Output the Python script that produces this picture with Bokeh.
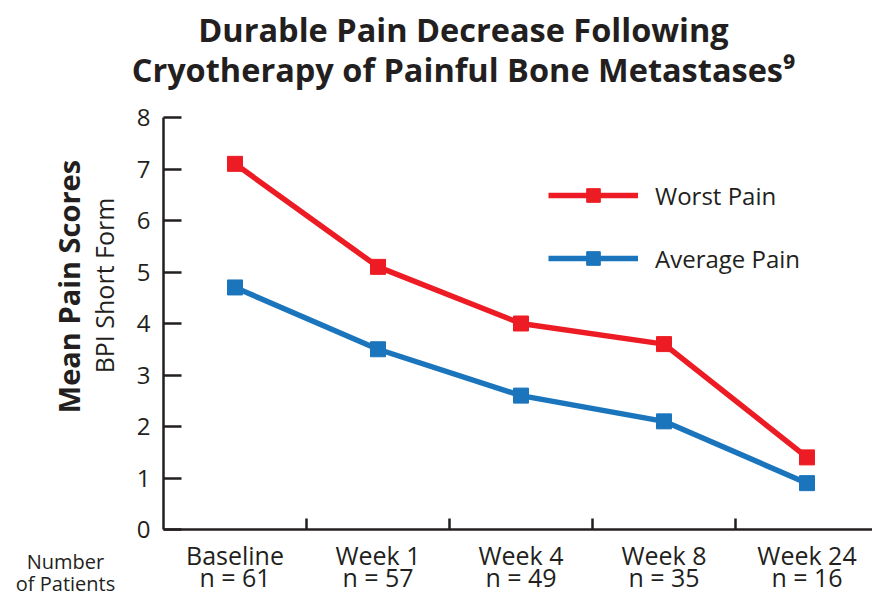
import math
from bokeh.plotting import figure
from bokeh.layouts import column, row
from bokeh.models import Range1d, FixedTicker, Legend, LinearAxis
from bokeh.core.properties import value
from bokeh.embed import file_html
from bokeh.resources import INLINE

categories = ["Baseline", "Week 1", "Week 4", "Week 8", "Week 24"]
patients = ["n = 61", "n = 57", "n = 49", "n = 35", "n = 16"]
worst_pain = [7.1, 5.1, 4.0, 3.6, 1.4]
average_pain = [4.7, 3.5, 2.6, 2.1, 0.9]
y_ticks = [0, 1, 2, 3, 4, 5, 6, 7, 8]
title_lines = ["Durable Pain Decrease Following", "Cryotherapy of Painful Bone Metastases\u2079"]
y_title = "Mean Pain Scores"
y_subtitle = "BPI Short Form"
patients_caption = ["Number", "of Patients"]

FONT = "Open Sans"
DARK = "#231f20"
RED = "#ed1c24"
BLUE = "#1b75bc"

W, H = 872, 597
TOP_H = 100
LEFT_W = 130


def blank_fig(width, height, x0, x1, y0, y1):
    f = figure(width=width, height=height, output_backend="svg", toolbar_location=None,
               x_range=Range1d(x0, x1), y_range=Range1d(y0, y1),
               x_axis_location=None, y_axis_location=None,
               min_border=0, min_border_left=0, min_border_right=0,
               min_border_top=0, min_border_bottom=0, frame_align=False)
    f.outline_line_color = None
    f.xgrid.visible = False
    f.ygrid.visible = False
    f.background_fill_color = "white"
    f.border_fill_color = "white"
    return f


# ---- title strip (page pixel coordinates, y downwards)
top = blank_fig(W, TOP_H, 0, W, TOP_H, 0)
top.text(x=[463, 463], y=[29, 69], text=title_lines, text_font=value(FONT),
         text_font_size="32.5px", text_font_style="bold", text_color=DARK,
         text_align="center", text_baseline="middle")

# ---- left strip
left = blank_fig(LEFT_W, H - TOP_H, 0, LEFT_W, H, TOP_H)
left.text(x=[67.5], y=[286], text=[y_title], text_font=value(FONT), text_font_size="29px",
          text_font_style="bold", text_color=DARK, text_align="center",
          text_baseline="middle", angle=math.pi / 2)
left.text(x=[103], y=[285], text=[y_subtitle], text_font=value(FONT), text_font_size="25px",
          text_color=DARK, text_align="center", text_baseline="middle", angle=math.pi / 2)
left.text(x=[65, 65], y=[561, 583], text=patients_caption, text_font=value(FONT),
          text_font_size="20px", text_color=DARK, text_align="center",
          text_baseline="middle")

# ---- main chart
xs = list(range(len(categories)))
p = figure(width=W - LEFT_W, height=H - TOP_H, output_backend="svg", toolbar_location=None,
           x_range=Range1d(-0.5, 4.458), y_range=Range1d(0, 8),
           min_border_left=33, min_border_right=0, min_border_top=17,
           min_border_bottom=68, frame_align=False)
p.outline_line_color = None
p.xgrid.visible = False
p.ygrid.visible = False
p.background_fill_color = "white"
p.border_fill_color = "white"

p.xaxis.ticker = FixedTicker(ticks=xs, minor_ticks=[i + 0.5 for i in xs[:-1]])
p.xaxis.major_label_overrides = {i: c for i, c in enumerate(categories)}
p.xaxis.major_tick_in = 0
p.xaxis.major_tick_out = 0
p.xaxis.minor_tick_in = 11
p.xaxis.minor_tick_out = 0
p.xaxis.minor_tick_line_color = DARK
p.xaxis.minor_tick_line_width = 2.5
p.xaxis.axis_line_color = DARK
p.xaxis.axis_line_width = 2.5
p.xaxis.major_label_text_font = FONT
p.xaxis.major_label_text_font_size = "25px"
p.xaxis.major_label_text_color = DARK
p.xaxis.major_label_standoff = 8

n_axis = LinearAxis(ticker=FixedTicker(ticks=xs, minor_ticks=[]),
                    major_label_overrides={i: n for i, n in enumerate(patients)},
                    axis_line_color=None, major_tick_line_color=None,
                    minor_tick_line_color=None, major_tick_in=0, major_tick_out=0,
                    minor_tick_in=0, minor_tick_out=0,
                    major_label_text_font=FONT, major_label_text_font_size="25px",
                    major_label_text_color=DARK, major_label_standoff=-15)
p.add_layout(n_axis, "below")

p.yaxis.ticker = FixedTicker(ticks=y_ticks, minor_ticks=[])
p.yaxis.major_tick_in = 18
p.yaxis.major_tick_out = 0
p.yaxis.major_tick_line_color = DARK
p.yaxis.major_tick_line_width = 2.5
p.yaxis.axis_line_color = DARK
p.yaxis.axis_line_width = 2.5
p.yaxis.major_label_text_font = FONT
p.yaxis.major_label_text_font_size = "24px"
p.yaxis.major_label_text_color = DARK
p.yaxis.major_label_standoff = 13

r1 = p.line(xs, worst_pain, line_color=RED, line_width=5.5)
m1 = p.scatter(xs, worst_pain, marker="square", size=15, fill_color=RED, line_color=RED)
r2 = p.line(xs, average_pain, line_color=BLUE, line_width=5.5)
m2 = p.scatter(xs, average_pain, marker="square", size=15, fill_color=BLUE, line_color=BLUE)

legend = Legend(items=[("Worst Pain", [r1, m1]), ("Average Pain", [r2, m2])],
                location=(385, 254), glyph_width=90, glyph_height=34, label_height=34,
                spacing=29, padding=0, margin=0, label_standoff=17,
                border_line_color=None, background_fill_alpha=0,
                label_text_font=FONT, label_text_font_size="24px", label_text_color=DARK)
p.add_layout(legend, "center")

layout = column(top, row(left, p, spacing=0), spacing=0)
open("out.html", "w").write(file_html(layout, INLINE))
